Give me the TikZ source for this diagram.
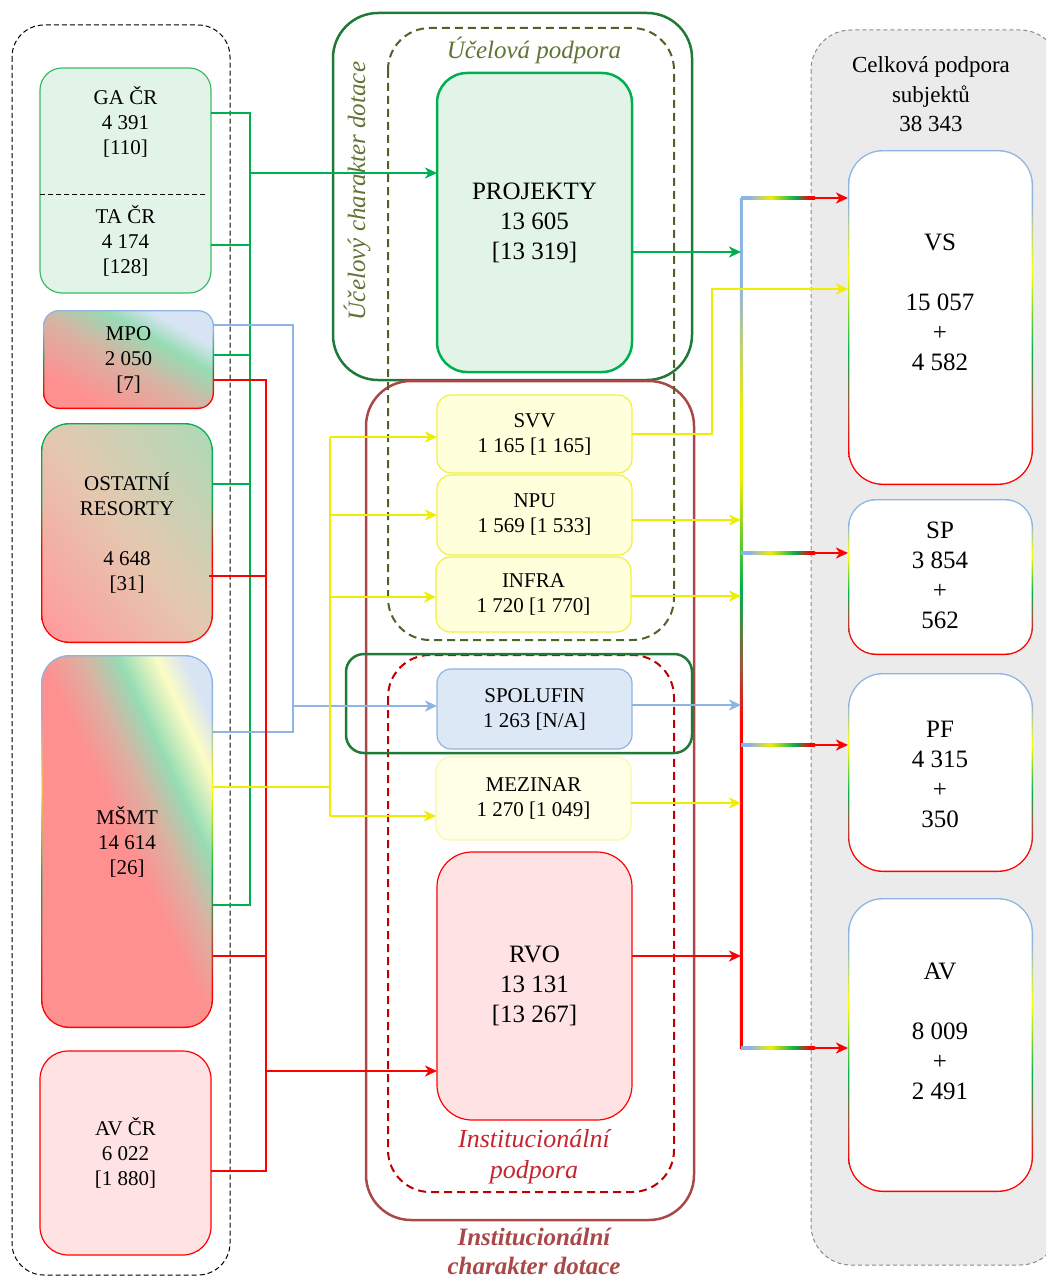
\documentclass[tikz,border=0pt]{standalone}
\usepackage{fontspec}
\setmainfont{Liberation Serif}
\usetikzlibrary{arrows.meta}
\definecolor{cgreen}{HTML}{00B050}
\definecolor{cgreenl}{HTML}{3CBA68}
\definecolor{cdkgreen}{HTML}{1E7A36}
\definecolor{colive}{HTML}{4F6228}
\definecolor{colivetxt}{HTML}{5E7535}
\definecolor{cbrown}{HTML}{A94848}
\definecolor{cdkred}{HTML}{C00000}
\definecolor{cinsttxt}{HTML}{C4262E}
\definecolor{cred}{HTML}{FF0000}
\definecolor{cblue}{HTML}{8EB4E3}
\definecolor{cyellow}{HTML}{EEEE00}
\definecolor{cyellowb}{HTML}{F0F040}
\definecolor{cyellowl}{HTML}{F8F8A8}
\definecolor{lgreen}{HTML}{E2F4E8}
\definecolor{lyellow}{HTML}{FFFFDC}
\definecolor{lyellow2}{HTML}{FFFFE8}
\definecolor{lblue}{HTML}{DDE8F6}
\definecolor{lred}{HTML}{FFE3E4}
\definecolor{cgray}{HTML}{EBEBEB}
\definecolor{cgrayb}{HTML}{8A8A8A}
\definecolor{sred}{HTML}{FF9090}
\definecolor{stan}{HTML}{D9B2A2}
\definecolor{sgreen}{HTML}{96DCB4}
\definecolor{syellow}{HTML}{FCFCC4}
\definecolor{sblue}{HTML}{D8E4F4}
\definecolor{ored}{HTML}{FF9C9C}
\definecolor{otan}{HTML}{E4C8B0}
\definecolor{ogreen}{HTML}{A6DCB8}
\definecolor{bbrown}{HTML}{9A5A3A}
\pgfdeclarehorizontalshading{msmtfill}{100bp}{color(0bp)=(sred); color(50bp)=(sred); color(58bp)=(stan); color(64.9bp)=(sgreen); color(72.3bp)=(syellow); color(77.6bp)=(sblue); color(100bp)=(sblue)}
\pgfdeclarehorizontalshading{mpofill}{100bp}{color(0bp)=(sred); color(27.5bp)=(sred); color(47.5bp)=(stan); color(62.5bp)=(sgreen); color(72bp)=(sblue); color(100bp)=(sblue)}
\pgfdeclarehorizontalshading{ostfill}{100bp}{color(0bp)=(ored); color(18bp)=(ored); color(50bp)=(otan); color(89bp)=(ogreen); color(100bp)=(ogreen)}
\pgfdeclareverticalshading{rbord}{100bp}{color(0bp)=(cred); color(30bp)=(cred); color(37.5bp)=(bbrown); color(45bp)=(cgreen); color(57bp)=(yellow); color(67bp)=(cblue); color(100bp)=(cblue)}
\pgfdeclareverticalshading{mpobord}{100bp}{color(0bp)=(cred); color(32bp)=(cred); color(50bp)=(cgreen); color(65bp)=(cblue); color(100bp)=(cblue)}
\pgfdeclareverticalshading{ostbord}{100bp}{color(0bp)=(cred); color(45bp)=(cred); color(57.5bp)=(cgreen); color(100bp)=(cgreen)}
\pgfdeclareverticalshading{busgrad}{100bp}{color(0bp)=(cred); color(44bp)=(cred); color(47.5bp)=(bbrown); color(52bp)=(cgreen); color(58.5bp)=(cyellow); color(62.5bp)=(cyellow); color(70bp)=(cblue); color(100bp)=(cblue)}
\pgfdeclarehorizontalshading{hgrad}{100bp}{color(0bp)=(cblue); color(31bp)=(cblue); color(45bp)=(cyellow); color(61.5bp)=(cgreen); color(71.5bp)=(cred); color(100bp)=(cred)}
\newcommand\gradbox[7]{%
  \pgfmathsetmacro\gbr{#5-1.4}%
  \shade[shading=#6,rounded corners=#5pt] (#1,#2) rectangle (#3,#4);
  \path[rounded corners=\gbr pt,#7] ({#1+1.4},{#2+1.4}) rectangle ({#3-1.4},{#4-1.4});
}
\tikzset{
  t21/.style={font=\fontsize{21}{25}\selectfont, align=center, inner sep=0pt},
  t25/.style={font=\fontsize{25}{30}\selectfont, align=center, inner sep=0pt},
  t23/.style={font=\fontsize{23}{29.5}\selectfont, align=center, inner sep=0pt},
  bx/.style={inner sep=0pt, outer sep=0pt, align=center},
  gline/.style={draw=cgreen, line width=2.5pt},
  rline/.style={draw=cred, line width=2.5pt},
  bline/.style={draw=cblue, line width=2.5pt},
  yline/.style={draw=cyellow, line width=2.5pt},
  arr/.style={-{Stealth[length=12pt,width=11pt,inset=3.5pt]}},
  contbox/.style={line width=2.5pt, rounded corners=#1},
  contbox/.default=45pt,
  dashbox/.style={line width=2pt, dash pattern=on 8pt off 5pt, rounded corners=42pt},
}
\begin{document}
\begin{tikzpicture}[x=1pt,y=-1pt]
\useasboundingbox (0,0) rectangle (1046,1279);
% ---------- right container
\path[fill=cgray, draw=cgrayb, line width=1pt, dash pattern=on 4pt off 3pt, rounded corners=40pt] (811,30) rectangle (1060,1265);
\node[t23] (ltitle) at (931,94.5) {Celková podpora\\subjektů\\38 343};
% ---------- left container
\draw[black, line width=1pt, dash pattern=on 5pt off 3pt, rounded corners=32pt] (12,25) rectangle (230,1275);
% ---------- middle containers
\draw[cdkgreen, contbox=45pt] (333,13) rectangle (692,380);
\draw[cbrown, contbox=45pt] (366,381) rectangle (694,1220);
\draw[colive, dashbox] (388,28) rectangle (674,640);
\draw[cdkred, dashbox] (388,655) rectangle (674,1192);
\draw[cdkgreen, contbox=18pt] (346,654) rectangle (692,753);
% ---------- gradient boxes
\gradbox{43}{310}{214}{409}{16}{mpobord}{shade,shading=mpofill,shading angle=60}
\gradbox{41}{423}{213}{643}{28}{ostbord}{shade,shading=ostfill,shading angle=38}
\gradbox{41}{655}{213}{1028}{28}{rbord}{shade,shading=msmtfill,shading angle=25}
\gradbox{848}{150}{1033}{485}{35}{rbord}{fill=white}
\gradbox{848}{499}{1033}{655}{28}{rbord}{fill=white}
\gradbox{848}{673}{1033}{872}{35}{rbord}{fill=white}
\gradbox{848}{898}{1033}{1192}{35}{rbord}{fill=white}
% ---------- left nodes
\node[bx, draw=cgreenl, fill=lgreen, line width=1.2pt, rounded corners=22pt, minimum width=171pt, minimum height=225pt] (gata) at (125.5,180.5) {};
\draw[black, line width=1pt, dash pattern=on 5pt off 3pt] (40,194) -- (207,194);
\node[t21] (ga) at (125.5,122) {GA ČR\\4 391\\{[110]}};
\node[t21] (ta) at (125.5,241) {TA ČR\\4 174\\{[128]}};
\node[bx, t21, minimum width=171pt, minimum height=99pt] (mpo) at (128.5,359.5) {MPO\\2 050\\{[7]}};
\node[bx, t21, minimum width=172pt, minimum height=220pt] (ost) at (127,533) {OSTATNÍ\\RESORTY\\[25pt]4 648\\{[31]}};
\node[bx, t21, minimum width=172pt, minimum height=373pt] (msmt) at (127,841.5) {MŠMT\\14 614\\{[26]}};
\node[bx, t21, draw=cred, fill=lred, line width=1.2pt, rounded corners=28pt, minimum width=171pt, minimum height=204pt] (avcr) at (125.5,1153) {AV ČR\\6 022\\{[1 880]}};
% ---------- middle nodes
\node[bx, t25, draw=cgreen, fill=lgreen, line width=2.5pt, rounded corners=30pt, minimum width=195pt, minimum height=299pt] (projekty) at (534.5,222.5) {PROJEKTY\\13 605\\{[13 319]}};
\node[bx, t21, draw=cyellowb, fill=lyellow, line width=1.2pt, rounded corners=14pt, minimum width=195pt, minimum height=78pt] (svv) at (534.5,434) {SVV\\1 165 [1 165]};
\node[bx, t21, draw=cyellowb, fill=lyellow, line width=1.2pt, rounded corners=14pt, minimum width=195pt, minimum height=80pt] (npu) at (534.5,515) {NPU\\1 569 [1 533]};
\node[bx, t21, draw=cyellowb, fill=lyellow, line width=1.2pt, rounded corners=14pt, minimum width=195pt, minimum height=75pt] (infra) at (533.5,594.5) {INFRA\\1 720 [1 770]};
\node[bx, t21, draw=cblue, fill=lblue, line width=1.2pt, rounded corners=14pt, minimum width=195pt, minimum height=80pt] (spolufin) at (534.5,709) {SPOLUFIN\\1 263 [N/A]};
\node[bx, t21, draw=cyellowl, fill=lyellow2, line width=1.2pt, rounded corners=14pt, minimum width=195pt, minimum height=83pt] (mezinar) at (533.5,798.5) {MEZINAR\\1 270 [1 049]};
\node[bx, t25, draw=cred, fill=lred, line width=1.2pt, rounded corners=35pt, minimum width=195pt, minimum height=268pt] (rvo) at (534.5,986) {RVO\\13 131\\{[13 267]}};
% ---------- right nodes
\node[bx, minimum width=185pt, minimum height=335pt] (vs) at (940.5,317.5) {};
\node[t25] (vst) at (940,302) {VS\\[30pt]15 057\\+\\4 582};
\node[bx, minimum width=185pt, minimum height=156pt] (sp) at (940.5,577) {};
\node[t25] (spt) at (940,575) {SP\\3 854\\+\\562};
\node[bx, minimum width=185pt, minimum height=199pt] (pf) at (940.5,772.5) {};
\node[t25] (pft) at (940,774) {PF\\4 315\\+\\350};
\node[bx, minimum width=185pt, minimum height=294pt] (av) at (940.5,1045) {};
\node[t25] (avt) at (940,1031) {AV\\[30pt]8 009\\+\\2 491};
% ---------- bus coordinates
\coordinate (gb1) at (250,113);
\coordinate (gb2) at (250,245);
\coordinate (gb3) at (250,355);
\coordinate (gb4) at (250,484);
\coordinate (gb5) at (250,905);
\coordinate (gba) at (250,173);
\coordinate (rb1) at (266,380);
\coordinate (rb2) at (266,576);
\coordinate (rb3) at (266,956);
\coordinate (rb4) at (266,1171);
\coordinate (rba) at (266,1071);
\coordinate (bb1) at (293,325);
\coordinate (bb2) at (293,732);
\coordinate (bba) at (293,706);
\coordinate (yb0) at (330,787);
\coordinate (yb1) at (330,437);
\coordinate (yb2) at (330,515);
\coordinate (yb3) at (330,597);
\coordinate (yb4) at (330,816);
% ---------- left connectors
\draw[gline] (gata.east |- gb1) -- (gb1) -- (gb5) -- (gb5 -| msmt.east);
\draw[gline] (gata.east |- gb2) -- (gb2);
\draw[gline] (mpo.east |- gb3) -- (gb3);
\draw[gline] (ost.east |- gb4) -- (gb4);
\draw[gline, arr] (gba) -- (gba -| projekty.west);
\draw[bline] (mpo.east |- bb1) -- (bb1) -- (bb2) -- (bb2 -| msmt.east);
\draw[bline, arr] (bba) -- (bba -| spolufin.west);
\draw[rline] (mpo.east |- rb1) -- (rb1) -- (rb4) -- (rb4 -| avcr.east);
\draw[rline] ([xshift=-4pt]ost.east |- rb2) -- (rb2);
\draw[rline] (msmt.east |- rb3) -- (rb3);
\draw[rline, arr] (rba) -- (rba -| rvo.west);
\draw[yline] (msmt.east |- yb0) -- (yb0);
\draw[yline] (yb1) -- (yb4);
\draw[yline, arr] (yb1) -- (yb1 -| svv.west);
\draw[yline, arr] (yb2) -- (yb2 -| npu.west);
\draw[yline, arr] (yb3) -- (yb3 -| infra.west);
\draw[yline, arr] (yb4) -- (yb4 -| mezinar.west);
% ---------- right bus
\coordinate (bustop) at (741,198);
\coordinate (busbot) at (741,1048);
\shade[shading=busgrad] (739.75,198) rectangle (742.25,1048);
\coordinate (c1) at (741,252);
\coordinate (c2) at (741,520);
\coordinate (c3) at (741,596);
\coordinate (c4) at (741,705);
\coordinate (c5) at (741,803);
\coordinate (c6) at (741,956);
\draw[gline, arr] (projekty.east |- c1) -- (c1);
\draw[yline, arr] (npu.east |- c2) -- (c2);
\draw[yline, arr] (infra.east |- c3) -- (c3);
\draw[bline, arr] (spolufin.east |- c4) -- (c4);
\draw[yline, arr] (mezinar.east |- c5) -- (c5);
\draw[rline, arr] (rvo.east |- c6) -- (c6);
\coordinate (sv1) at (712,434);
\coordinate (sv2) at (712,289);
\draw[yline, arr] (svv.east |- sv1) -- (sv1) -- (sv2) -- (sv2 -| vs.west);
% gradient outgoing connectors
\shade[shading=hgrad] (741,196.75) rectangle (815,199.25);
\shade[shading=hgrad] (741,551.75) rectangle (815,554.25);
\shade[shading=hgrad] (741,743.75) rectangle (815,746.25);
\shade[shading=hgrad] (741,1046.75) rectangle (815,1049.25);
\coordinate (o1) at (812,198);
\coordinate (o2) at (812,553);
\coordinate (o3) at (812,745);
\coordinate (o4) at (812,1048);
\draw[rline, arr] (o1) -- (o1 -| vs.west);
\draw[rline, arr] (o2) -- (o2 -| sp.west);
\draw[rline, arr] (o3) -- (o3 -| pf.west);
\draw[rline, arr] (o4) -- (o4 -| av.west);
% ---------- labels
\node[text=colivetxt, font=\fontsize{25}{30}\selectfont\itshape, rotate=90, inner sep=0pt] (lucc) at (357,191) {Účelový charakter dotace};
\node[text=colivetxt, font=\fontsize{25}{30}\selectfont\itshape, inner sep=0pt] (lucp) at (534,50) {Účelová podpora};
\node[text=cinsttxt, font=\fontsize{26}{31}\selectfont\itshape, align=center, inner sep=0pt] (linp) at (534,1156.5) {Institucionální\\podpora};
\node[text=cbrown, font=\fontsize{25}{29}\selectfont\bfseries\itshape, align=center, inner sep=0pt] (linc) at (534,1251) {Institucionální\\charakter dotace};
\end{tikzpicture}
\end{document}
